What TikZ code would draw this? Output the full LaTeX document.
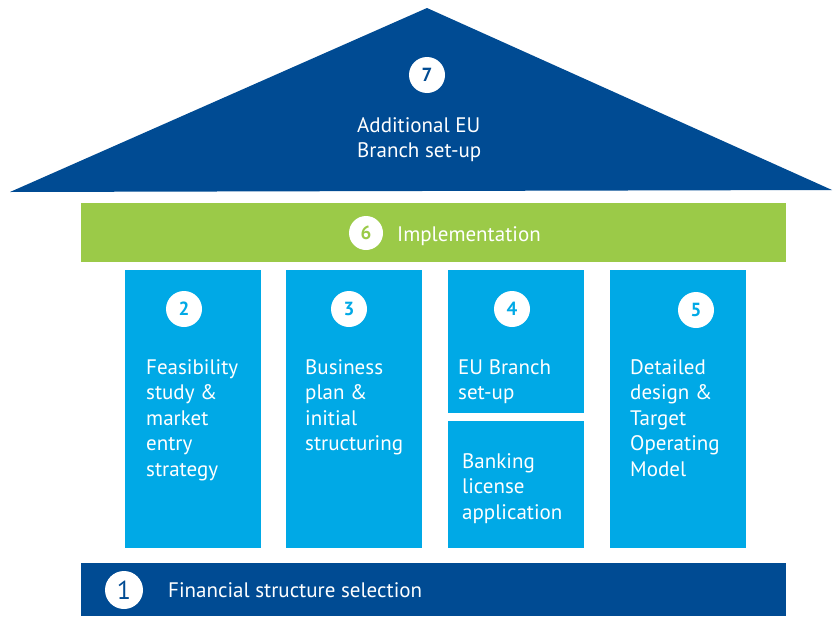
\documentclass[tikz,border=0pt]{standalone}
\usepackage{fontspec}
\setmainfont{PT Sans}
\usetikzlibrary{positioning}
\definecolor{darkblue}{RGB}{0,75,147}
\definecolor{lightblue}{RGB}{0,169,230}
\definecolor{limegreen}{RGB}{155,202,72}
\tikzset{
  pillar/.style={fill=lightblue, inner sep=0, anchor=north west, minimum width=136pt},
  bar/.style={inner sep=0, anchor=north west, minimum width=705pt},
  numcircle/.style={circle, fill=white, inner sep=0, minimum size=36pt, font=\fontsize{19}{19}\selectfont\bfseries},
  boxtext/.style={text=white, align=left, anchor=north west, inner sep=0, font=\fontsize{21}{25.5}\selectfont}
}
\begin{document}
\begin{tikzpicture}[x=1pt,y=-1pt]
    \useasboundingbox (0,0) rectangle (835,616);
    % roof
    \fill[darkblue] (427,8) -- (832,190) -- (10,192) -- cycle;
    \node[numcircle, text=darkblue] (c7) at (427,75) {7};
    \node[boxtext] (t7) at (357,117) {Additional EU\\Branch set-up};

    % implementation bar
    \node[bar, fill=limegreen, minimum height=59pt] (impl) at (81,203) {};
    \node[numcircle, text=limegreen, minimum size=34pt] (c6) at (366,233) {6};
    \node[text=white, inner sep=0, anchor=base west, font=\fontsize{21}{25.5}\selectfont] (t6) at (397,241) {Implementation};

    % pillars
    \node[pillar, minimum height=278pt] (p2) at (125,270) {};
    \node[pillar, minimum height=278pt] (p3) at (286,270) {};
    \node[pillar, minimum height=143pt] (p4) at (448,270) {};
    \node[pillar, minimum height=127pt] (p4b) at (448,421) {};
    \node[pillar, minimum height=278pt] (p5) at (610,270) {};

    \node[numcircle, text=lightblue] (c2) at (184,309) {2};
    \node[numcircle, text=lightblue] (c3) at (349,309) {3};
    \node[numcircle, text=lightblue] (c4) at (512,309) {4};
    \node[numcircle, text=lightblue] (c5) at (696,310) {5};

    \node[boxtext] (t2) at (146,359) {Feasibility\\study \&\\market\\entry\\strategy};
    \node[boxtext] (t3) at (305,359) {Business\\plan \&\\initial\\structuring};
    \node[boxtext] (t4) at (458,359) {EU Branch\\set-up};
    \node[boxtext] (t4b) at (462,453) {Banking\\license\\application};
    \node[boxtext] (t5) at (630,359) {Detailed\\design \&\\Target\\Operating\\Model};

    % foundation
    \node[bar, fill=darkblue, minimum height=53pt] (base) at (81,563) {};
    \node[numcircle, text=darkblue, minimum size=38pt, font=\fontsize{26}{26}\selectfont] (c1) at (124,590) {1};
    \node[text=white, inner sep=0, anchor=base west, font=\fontsize{21}{25.5}\selectfont] (t1) at (168,597) {Financial structure selection};
\end{tikzpicture}
\end{document}
